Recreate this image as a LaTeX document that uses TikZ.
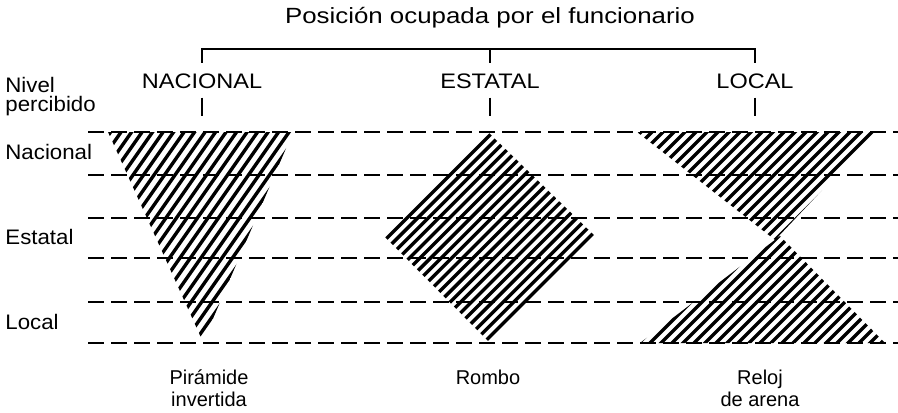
\documentclass[tikz,border=0pt]{standalone}
\usepackage{fontspec}
\setmainfont{Liberation Sans}
\begin{document}
\begin{tikzpicture}[x=0.5pt,y=-0.5pt,
	    hatchline/.style={line width=1.7pt},
	    tierline/.style={line width=1pt,dash pattern=on 8pt off 3.5pt},
	    toplabel/.style={inner sep=0pt,anchor=base,xscale=1.12,font=\fontsize{10.5}{12}\selectfont},
	    rowlabel/.style={inner sep=0pt,anchor=west,xscale=1.06,font=\fontsize{10.5}{12}\selectfont},
	    shapelabel/.style={inner sep=0pt,anchor=north,align=center,font=\fontsize{10}{11}\selectfont}]
	    \useasboundingbox (0,0) rectangle (898,412);
	    \node[toplabel,xscale=1.05,font=\fontsize{11}{13}\selectfont] (titulo) at (490,23) {Posición ocupada por el funcionario};
	    \node[toplabel] (nac) at (202,88) {NACIONAL};
	    \node[toplabel] (est) at (490,88) {ESTATAL};
	    \node[toplabel] (loc) at (755,88) {LOCAL};
	    \coordinate (llave) at (490,49);
	    \draw[line width=0.9pt] ([yshift=5pt]nac.north) |- (llave) -| ([yshift=5pt]loc.north);
	    \draw[line width=0.9pt] (llave) -- ([yshift=5pt]est.north);
	    \foreach \n in {nac,est,loc}
	        \draw[line width=0.9pt] ([yshift=-4.5pt]\n.south) -- ++(0,18);
	    \node[rowlabel,anchor=north west,align=left,font=\fontsize{10.5}{9.5}\selectfont] (nivel) at (5,77) {Nivel\\percibido};
	    \node[rowlabel] (nacional) at (5,152) {Nacional};
	    \node[rowlabel] (estatal) at (5,237) {Estatal};
	    \node[rowlabel] (local) at (5,322) {Local};
	    \begin{scope}
	        \clip (108,132) -- (293,132) -- (203,342) -- cycle;
	        \foreach \c in {203,213.5,...,442}
	            \draw[hatchline] ({\c-0.7*350},350) -- ({\c-0.7*125},125);
	    \end{scope}
	    \begin{scope}
	        \clip (488,132) -- (385,237) -- (490,343) -- (597,238) -- cycle;
	        \foreach \u in {625,635.6,...,832}
	            \draw[hatchline] ({\u-350},350) -- ({\u-125},125);
	    \end{scope}
	    \begin{scope}
	        \clip (637,132) -- (877,132) -- (775,240) -- cycle (640,343) -- (885,343) -- (780,236) -- cycle;
	        \foreach \u in {773,784,...,1228}
	            \draw[hatchline] ({\u-350},350) -- ({\u-125},125);
	    \end{scope}
	    \foreach \y in {132,175,218,258,302,343}
	        \draw[tierline] (88,\y) -- (898,\y);
	    \node[shapelabel] (piramide) at (209,369) {Pirámide\\invertida};
	    \node[shapelabel] (rombo) at (488,370) {Rombo};
	    \node[shapelabel] (reloj) at (760,370) {Reloj\\de arena};
\end{tikzpicture}
\end{document}
